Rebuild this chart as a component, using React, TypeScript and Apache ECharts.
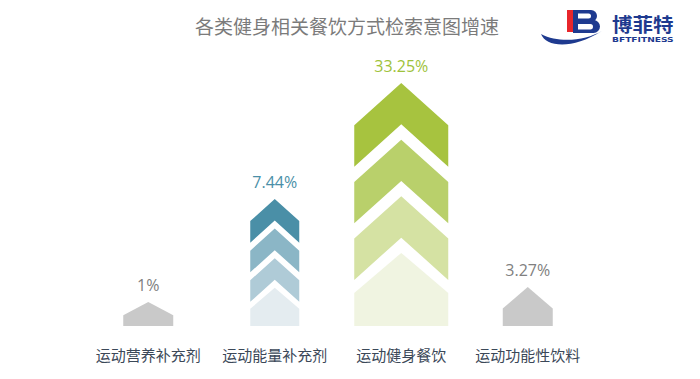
import React, { useEffect, useRef } from "react";
import * as echarts from "echarts";

// Data
const categories = ["运动营养补充剂", "运动能量补充剂", "运动健身餐饮", "运动功能性饮料"];
const growthRates = [1, 7.44, 33.25, 3.27]; // % shown above each arrow
// Visual arrow heights as drawn in the picture (stylised, not proportional)
const arrowLevels = [24, 127, 243, 39];
const arrowPieces = [1, 4, 4, 1];

// Styles
const arrowWidths = [50, 49, 94, 50];
const pieceColors: string[][] = [
  ["#c9c9c9"],
  ["#4a8fa7", "#8bb6c6", "#afcbd7", "#e4ecf0"],
  ["#a7c33f", "#b9d06b", "#d5e2a3", "#f0f4e1"],
  ["#c9c9c9"],
];
const labelColors = ["#808080", "#4a8fa7", "#9ec23a", "#808080"];

const swooshPath = "M541,34 C546,47 572,50 602,31 C586,40 560,44 541,34 Z";
echarts.graphic.registerShape("swoosh", echarts.graphic.extendPath(swooshPath, {}) as any);

export default function App() {
  const ref = useRef<HTMLDivElement>(null);
  useEffect(() => {
    document.body.style.margin = "0";
    if (!ref.current) return;
    const chart = echarts.init(ref.current, undefined, { renderer: "svg" });
    const font = "'Open Sans', 'Noto Sans CJK SC', sans-serif";

    const renderItem = (params: any, api: any) => {
      const idx = api.value(0);
      const h = api.value(1);
      const base = api.coord([idx, 0]);
      const top = api.coord([idx, h]);
      const cx = base[0];
      const y0 = top[1];
      const yb = base[1];
      const H = yb - y0;
      const hw = arrowWidths[idx] / 2;
      const n = arrowPieces[idx];
      const cols = pieceColors[idx];
      const children: any[] = [];
      const pentagon = (a: number, color: string) => {
        const lh = yb - a;
        const d = Math.min(0.9 * hw, 0.55 * lh);
        return {
          type: "polygon",
          shape: { points: [[cx, a], [cx + hw, a + d], [cx + hw, yb], [cx - hw, yb], [cx - hw, a + d]] },
          style: { fill: color },
        };
      };
      if (n === 1) {
        children.push(pentagon(y0, cols[0]));
      } else {
        const step = H / (n - 1 + 1.29);
        const t = 0.73 * step;
        const d = 0.9 * hw;
        for (let k = 0; k < n - 1; k++) {
          const a = y0 + k * step;
          children.push({
            type: "polygon",
            shape: {
              points: [
                [cx, a], [cx + hw, a + d], [cx + hw, a + d + t], [cx, a + t], [cx - hw, a + d + t], [cx - hw, a + d],
              ],
            },
            style: { fill: cols[k] },
          });
        }
        children.push(pentagon(y0 + (n - 1) * step, cols[n - 1]));
      }
      children.push({
        type: "text",
        x: cx,
        y: y0 - 17,
        style: {
          text: `${growthRates[idx]}%`,
          fill: labelColors[idx],
          font: `16px ${font}`,
          textAlign: "center",
          textVerticalAlign: "middle",
        },
      });
      return { type: "group", children };
    };

    chart.setOption({
      animation: false,
      grid: { left: 85, right: 109, top: 76, bottom: 53 },
      xAxis: {
        type: "category",
        data: categories,
        axisLine: { show: false },
        axisTick: { show: false },
        axisLabel: { color: "#3b4858", fontSize: 15, margin: 21, fontFamily: font, interval: 0 },
      },
      yAxis: { type: "value", min: 0, max: 250, show: false, splitLine: { show: false } },
      series: [
        {
          type: "custom",
          renderItem,
          data: categories.map((_, i) => [i, arrowLevels[i]]),
        },
      ],
      graphic: [
        {
          type: "text",
          x: 347,
          y: 25,
          style: {
            text: "各类健身相关餐饮方式检索意图增速",
            fill: "#7b7b7b",
            font: `19px 'Noto Sans CJK SC', sans-serif`,
            textAlign: "center",
            textVerticalAlign: "middle",
          },
        },
        // logo
        { type: "rect", shape: { x: 573, y: 20, width: 27, height: 13, r: [0, 7, 7, 0] }, style: { fill: "#1e3a8f" } },
        { type: "rect", shape: { x: 573, y: 10, width: 24, height: 12, r: [0, 6, 6, 0] }, style: { fill: "#1e3a8f" } },
        { type: "rect", shape: { x: 578, y: 13.5, width: 13, height: 5, r: [0, 2.5, 2.5, 0] }, style: { fill: "#ffffff" } },
        { type: "rect", shape: { x: 578, y: 24, width: 15, height: 5.5, r: [0, 2.7, 2.7, 0] }, style: { fill: "#ffffff" } },
        { type: "rect", shape: { x: 567, y: 10, width: 6, height: 22 }, style: { fill: "#e8262b" } },
        { type: "swoosh", x: 0, y: 0, style: { fill: "#1e3a8f" } },
        {
          type: "text",
          x: 612,
          y: 23.5,
          scaleX: 1.08,
          style: {
            text: "博菲特",
            fill: "#1e3a8f",
            font: `bold 19px 'Noto Sans CJK SC', sans-serif`,
            textAlign: "left",
            textVerticalAlign: "middle",
          },
        },
        {
          type: "text",
          x: 612,
          y: 39.5,
          scaleX: 1.3,
          style: {
            text: "BFTFITNESS",
            fill: "#1e3a8f",
            font: `bold 7px 'DejaVu Sans', sans-serif`,
            textAlign: "left",
            textVerticalAlign: "middle",
          },
        },
      ],
    });
    return () => chart.dispose();
  }, []);
  return <div ref={ref} style={{ width: 700, height: 379 }} />;
}
